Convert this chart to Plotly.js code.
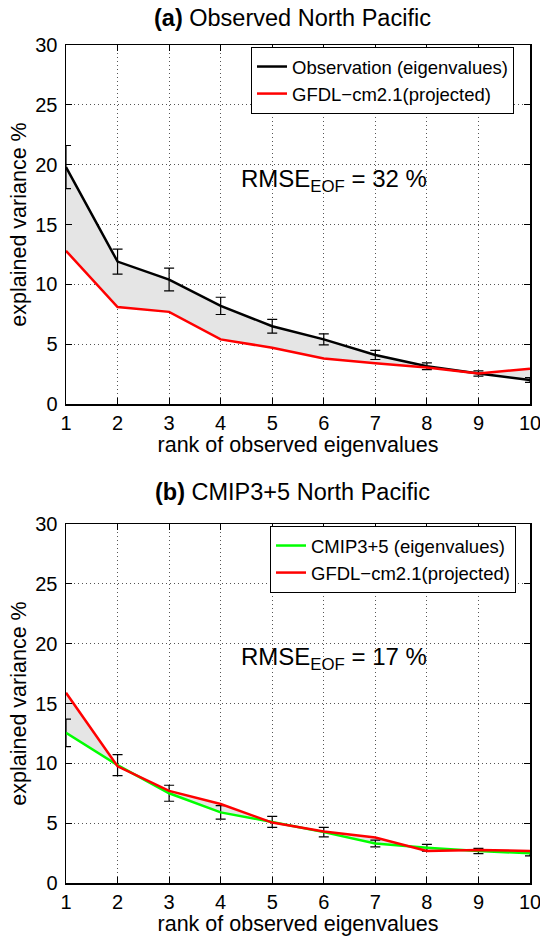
<!DOCTYPE html>
<html>
<head>
<meta charset="utf-8">
<script src="https://cdn.plot.ly/plotly-3.0.1.min.js"></script>
<style>html,body{margin:0;padding:0;background:#fff;}#chart{width:540px;height:937px;}</style>
</head>
<body>
<div id="chart"></div>
<script>
// ---- data ----
const ranks = [1, 2, 3, 4, 5, 6, 7, 8, 9, 10];
const obsA = [19.8, 11.9, 10.4, 8.2, 6.5, 5.4, 4.1, 3.15, 2.55, 2.0];
const obsAErr = [1.8, 1.05, 0.95, 0.72, 0.58, 0.46, 0.38, 0.28, 0.22, 0.2];
const gfdlA = [12.8, 8.1, 7.7, 5.4, 4.7, 3.8, 3.4, 3.05, 2.55, 2.95];
const cmipB = [12.55, 9.85, 7.5, 5.9, 5.1, 4.25, 3.3, 2.95, 2.67, 2.48];
const cmipBErr = [1.15, 0.88, 0.67, 0.56, 0.46, 0.39, 0.28, 0.28, 0.22, 0.21];
const gfdlB = [15.9, 9.75, 7.7, 6.6, 5.05, 4.3, 3.8, 2.68, 2.75, 2.68];
const titleA = "<b>(a)</b> Observed North Pacific";
const titleB = "<b>(b)</b> CMIP3+5 North Pacific";
const rmseA = "RMSE<sub>EOF</sub> = 32 %";
const rmseB = "RMSE<sub>EOF</sub> = 17 %";
const xLabel = "rank of observed eigenvalues";
const yLabel = "explained variance %";
const xTicks = [1, 2, 3, 4, 5, 6, 7, 8, 9, 10];
const yTicks = [0, 5, 10, 15, 20, 25, 30];

// ---- layout helpers ----
const W = 540, H = 937;
const FONT = "Liberation Sans, Arial, Helvetica, sans-serif";
const px = v => v / W;
const py = v => 1 - v / H;

const fillColor = "#e5e5e5";
const traces = [
  // panel a fill
  {x: ranks, y: gfdlA, xaxis: "x", yaxis: "y", mode: "lines", line: {width: 0}, showlegend: false, hoverinfo: "skip"},
  {x: ranks, y: obsA, xaxis: "x", yaxis: "y", mode: "lines", line: {width: 0}, fill: "tonexty", fillcolor: fillColor, showlegend: false, hoverinfo: "skip"},
  // panel a lines
  {x: ranks, y: obsA, xaxis: "x", yaxis: "y", mode: "lines", name: "Observation (eigenvalues)",
   line: {color: "#000000", width: 2.5}, legend: "legend", cliponaxis: true,
   error_y: {type: "data", array: obsAErr, visible: true, color: "#000", thickness: 1.2, width: 5}},
  {x: ranks, y: gfdlA, xaxis: "x", yaxis: "y", mode: "lines", name: "GFDL\u2212cm2.1(projected)",
   line: {color: "#ff0000", width: 2.5}, legend: "legend"},
  // panel b fill
  {x: ranks, y: cmipB, xaxis: "x2", yaxis: "y2", mode: "lines", line: {width: 0}, showlegend: false, hoverinfo: "skip"},
  {x: ranks, y: gfdlB, xaxis: "x2", yaxis: "y2", mode: "lines", line: {width: 0}, fill: "tonexty", fillcolor: fillColor, showlegend: false, hoverinfo: "skip"},
  // panel b lines
  {x: ranks, y: cmipB, xaxis: "x2", yaxis: "y2", mode: "lines", name: "CMIP3+5 (eigenvalues)",
   line: {color: "#00ff00", width: 2.5}, legend: "legend2", cliponaxis: true,
   error_y: {type: "data", array: cmipBErr, visible: true, color: "#000", thickness: 1.2, width: 5}},
  {x: ranks, y: gfdlB, xaxis: "x2", yaxis: "y2", mode: "lines", name: "GFDL\u2212cm2.1(projected)",
   line: {color: "#ff0000", width: 2.5}, legend: "legend2"}
];

function xAxis(anchor) {
  return {
    domain: [px(66), px(530)], anchor: anchor, range: [1, 10],
    tickmode: "array", tickvals: xTicks, ticktext: xTicks.map(String),
    ticks: "inside", ticklen: 6, tickwidth: 1, tickcolor: "#000",
    showline: true, linecolor: "#000", linewidth: 1.5, mirror: "allticks",
    showgrid: true, gridcolor: "#555", griddash: "1px,3px", gridwidth: 1,
    zeroline: false, automargin: false, ticklabeloverflow: "allow",
    tickfont: {family: FONT, size: 20, color: "#000"},
    title: {text: xLabel, font: {family: FONT, size: 21.5, color: "#000"}, standoff: 4}
  };
}
function yAxis(topPx, botPx, anchor) {
  return {
    domain: [py(botPx), py(topPx)], anchor: anchor, range: [0, 30],
    tickmode: "array", tickvals: yTicks, ticktext: yTicks.map(String),
    ticks: "inside", ticklen: 6, tickwidth: 1, tickcolor: "#000",
    showline: true, linecolor: "#000", linewidth: 1.5, mirror: "allticks",
    showgrid: true, gridcolor: "#555", griddash: "1px,3px", gridwidth: 1,
    zeroline: false, automargin: false, ticklabeloverflow: "allow", ticklabelstandoff: 3,
    tickfont: {family: FONT, size: 20, color: "#000"},
    title: {text: yLabel, font: {family: FONT, size: 21.5, color: "#000"}, standoff: 2}
  };
}

const legendBase = {
  xanchor: "right", yanchor: "top", bgcolor: "#fff",
  bordercolor: "#000", borderwidth: 1, traceorder: "normal",
  font: {family: FONT, size: 18.5, color: "#000"},
  tracegroupgap: 0, itemwidth: 30
};

const layout = {
  width: W, height: H,
  margin: {l: 0, r: 0, t: 0, b: 0},
  paper_bgcolor: "#fff", plot_bgcolor: "#fff",
  font: {family: FONT, color: "#000"},
  showlegend: true,
  xaxis: xAxis("y"),
  yaxis: yAxis(45, 404, "x"),
  xaxis2: xAxis("y2"),
  yaxis2: yAxis(524, 883, "x2"),
  legend: Object.assign({}, legendBase, {x: px(514), y: py(47)}),
  legend2: Object.assign({}, legendBase, {x: px(516), y: py(526)}),
  annotations: [
    {text: titleA, xref: "paper", yref: "paper", x: px(292), y: py(18), showarrow: false,
     xanchor: "center", yanchor: "middle", font: {family: FONT, size: 23.5, color: "#000"}},
    {text: titleB, xref: "paper", yref: "paper", x: px(292), y: py(492), showarrow: false,
     xanchor: "center", yanchor: "middle", font: {family: FONT, size: 23.5, color: "#000"}},
    {text: rmseA, xref: "paper", yref: "paper", x: px(334), y: py(180), showarrow: false,
     xanchor: "center", yanchor: "middle", font: {family: FONT, size: 24, color: "#000"}},
    {text: rmseB, xref: "paper", yref: "paper", x: px(334), y: py(658), showarrow: false,
     xanchor: "center", yanchor: "middle", font: {family: FONT, size: 24, color: "#000"}}
  ]
};

Plotly.newPlot("chart", traces, layout, {staticPlot: true, displayModeBar: false});
</script>
</body>
</html>
